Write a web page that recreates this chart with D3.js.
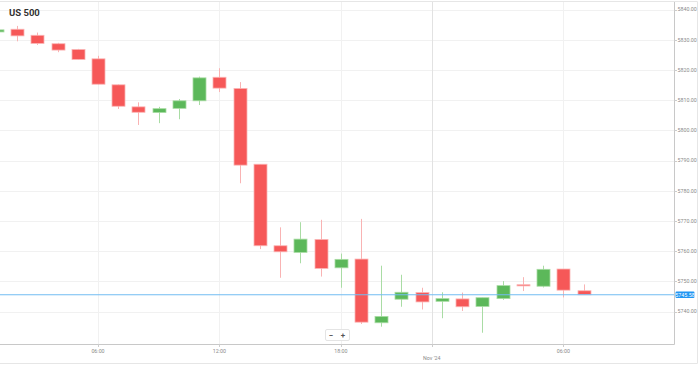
<!DOCTYPE html>
<html>
<head>
<meta charset="utf-8">
<script src="https://cdn.jsdelivr.net/npm/d3@7"></script>
<style>
  html, body { margin: 0; padding: 0; background: #fff; }
  svg { display: block; font-family: Roboto, "Open Sans", "DejaVu Sans", sans-serif; }
</style>
</head>
<body>
<svg id="chart" width="699" height="365"></svg>
<script>
// ---- data ----
const times = ["01:00","02:00","03:00","04:00","05:00","06:00","07:00","08:00","09:00","10:00",
  "11:00","12:00","13:00","14:00","15:00","16:00","17:00","18:00","19:00","20:00","21:00","22:00",
  "00:00","01:00","02:00","03:00","04:00","05:00","06:00","07:00"];
const open  = [5832.6,5833.5,5831.5,5828.7,5826.8,5823.7,5815.1,5807.8,5805.9,5807.3,
  5809.8,5817.6,5813.9,5788.8,5761.8,5759.6,5763.9,5754.5,5757.4,5736.3,5744.1,5746.3,
  5743.4,5744.2,5741.7,5744.3,5748.9,5748.4,5754.1,5746.9];
const high  = [5833.5,5834.6,5832.4,5829.0,5827.0,5824.7,5815.2,5809.3,5807.8,5810.4,
  5817.8,5820.6,5816.0,5788.8,5767.9,5769.6,5770.4,5759.2,5770.7,5755.2,5752.2,5747.9,
  5746.4,5746.3,5744.6,5750.1,5751.4,5755.2,5754.1,5749.0];
const low   = [5832.4,5829.5,5828.3,5825.9,5823.5,5815.2,5807.1,5801.8,5802.4,5803.7,
  5808.4,5812.7,5782.5,5760.7,5751.2,5756.0,5751.6,5747.9,5735.9,5735.0,5741.6,5740.7,
  5737.8,5740.2,5733.0,5743.9,5746.8,5748.0,5744.7,5745.5];
const close = [5833.3,5831.3,5828.8,5826.6,5823.5,5815.3,5808.0,5806.0,5807.2,5809.8,
  5817.4,5814.0,5788.5,5761.8,5759.8,5764.0,5754.3,5757.3,5736.5,5738.4,5746.4,5743.2,
  5744.3,5741.6,5744.6,5748.6,5748.5,5754.0,5747.1,5745.58];
const yTicks = [5740,5750,5760,5770,5780,5790,5800,5810,5820,5830,5840];
const xTickIdx = [5, 11, 17, 21.5, 28];
const xTickLabels = ["06:00","12:00","18:00","Nov '24","06:00"];
const lastPrice = 5745.58;
const title = "US 500";

// ---- layout ----
const svg = d3.select("#chart");
const L = 0, R = 674, T = 2, B = 344;
const x = d3.scaleLinear().domain([0.156, 33.47]).range([L, R]);
const y = d3.scaleLinear().domain([5729.27, 5842.52]).range([B, T]);
const RED = "#f65858", GREEN = "#5cb85a";
const data = times.map((t, i) => ({i, t, o: open[i], h: high[i], l: low[i], c: close[i]}));

// outer frame
svg.append("path").attr("d", "M0,1.5H697.5V363.5H0").attr("fill","none").attr("stroke","#e6e6e6");

// grid
const g = svg.append("g");
g.selectAll(".hg").data(yTicks).join("line")
  .attr("x1", L).attr("x2", R).attr("y1", d => Math.round(y(d)) + 0.5).attr("y2", d => Math.round(y(d)) + 0.5)
  .attr("stroke", "#f1f1f1");
g.selectAll(".vg").data(xTickIdx).join("line")
  .attr("x1", d => Math.round(x(d)) + 0.5).attr("x2", d => Math.round(x(d)) + 0.5)
  .attr("y1", T).attr("y2", B)
  .attr("stroke", (d, k) => xTickLabels[k].startsWith("Nov") ? "#e2e2e2" : "#f1f1f1");

// title
svg.append("text").attr("x", 9).attr("y", 16).attr("font-size", 9.5).attr("font-weight", "bold")
  .attr("fill", "#333").text(title);

// candles
const clip = svg.append("clipPath").attr("id", "clp").append("rect")
  .attr("x", L).attr("y", T).attr("width", R - L).attr("height", B - T);
const cg = svg.append("g").attr("clip-path", "url(#clp)");
const bw = 13;
cg.selectAll(".wick").data(data).join("line")
  .attr("x1", d => Math.round(x(d.i)) + 0.5).attr("x2", d => Math.round(x(d.i)) + 0.5)
  .attr("y1", d => y(d.h)).attr("y2", d => y(d.l))
  .attr("stroke", d => d.c >= d.o ? "#a9dca4" : "#f9b3b3").attr("stroke-width", 1);
cg.selectAll(".body").data(data).join("rect")
  .attr("x", d => Math.round(x(d.i)) - bw / 2 + 0.5)
  .attr("y", d => y(Math.max(d.o, d.c)))
  .attr("width", bw)
  .attr("height", d => Math.max(1.2, Math.abs(y(d.o) - y(d.c))))
  .attr("fill", d => d.c >= d.o ? GREEN : RED)
  .attr("stroke", d => d.c >= d.o ? "#a9dca4" : "#fbb5b5").attr("stroke-width", 0.8);

// current price line
svg.append("line").attr("x1", L).attr("x2", R)
  .attr("y1", y(lastPrice)).attr("y2", y(lastPrice))
  .attr("stroke", "#72bcf2").attr("stroke-width", 1.2);

// plot borders
svg.append("path").attr("d", `M${L},${B + 0.5}H${R + 0.5}V${T}`).attr("fill", "none").attr("stroke", "#c8c8c8");

// y axis (right)
const ya = svg.append("g");
ya.selectAll("line").data(yTicks).join("line")
  .attr("x1", R).attr("x2", R + 3).attr("y1", d => Math.round(y(d)) + 0.5).attr("y2", d => Math.round(y(d)) + 0.5)
  .attr("stroke", "#ccc");
ya.selectAll("text").data(yTicks).join("text")
  .attr("x", R + 3.5).attr("y", d => y(d)).attr("dy", "0.35em")
  .attr("font-size", 5.3).attr("fill", "#8a8a8a").text(d => d.toFixed(2));

// price label
const py = y(lastPrice);
svg.append("rect").attr("x", R + 1.5).attr("y", py - 3.3).attr("width", 19).attr("height", 6.6)
  .attr("rx", 1.2).attr("fill", "#2196f3");
svg.append("text").attr("x", R + 11).attr("y", py).attr("dy", "0.35em").attr("text-anchor", "middle")
  .attr("font-size", 5.3).attr("fill", "#fff").text(lastPrice.toFixed(2));

// x axis
const xa = svg.append("g");
xa.selectAll("line").data(xTickIdx).join("line")
  .attr("x1", d => Math.round(x(d)) + 0.5).attr("x2", d => Math.round(x(d)) + 0.5)
  .attr("y1", B).attr("y2", B + 3).attr("stroke", "#ccc");
xa.selectAll("text").data(xTickIdx).join("text")
  .attr("x", d => x(d)).attr("y", (d, k) => xTickLabels[k].startsWith("Nov") ? 358 : 351)
  .attr("dy", "0.35em").attr("text-anchor", "middle")
  .attr("font-size", 5.3).attr("fill", "#8a8a8a").text((d, k) => xTickLabels[k]);

// zoom buttons
const zb = svg.append("g");
zb.append("rect").attr("x", 325.5).attr("y", 329.5).attr("width", 24).attr("height", 11).attr("rx", 1.5)
  .attr("fill", "#fff").attr("stroke", "#e4e4e4");
zb.append("text").attr("x", 331).attr("y", 335).attr("dy", "0.35em").attr("text-anchor", "middle")
  .attr("font-size", 8).attr("font-weight", "bold").attr("fill", "#555").text("−");
zb.append("text").attr("x", 343).attr("y", 335).attr("dy", "0.35em").attr("text-anchor", "middle")
  .attr("font-size", 8).attr("font-weight", "bold").attr("fill", "#555").text("+");
</script>
</body>
</html>
